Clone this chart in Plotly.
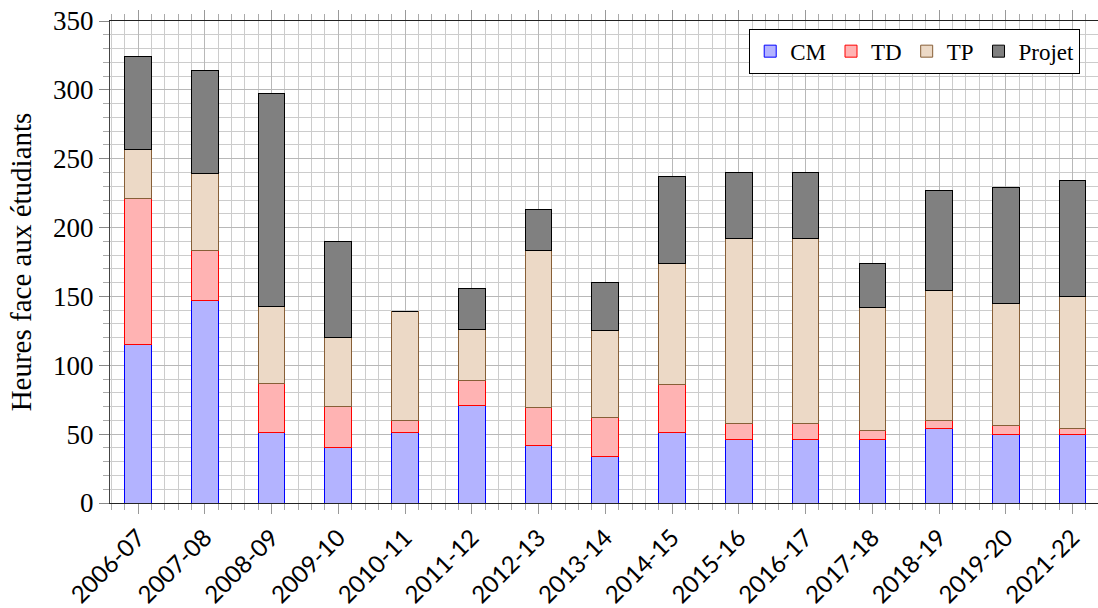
import plotly.graph_objects as go

# Années universitaires
annees = ["2006-07", "2007-08", "2008-09", "2009-10", "2010-11", "2011-12",
          "2012-13", "2013-14", "2014-15", "2015-16", "2016-17", "2017-18",
          "2018-19", "2019-20", "2021-22"]

# Heures par type d'enseignement
cm = [115, 147, 51, 40, 51, 71, 42, 34, 51, 46, 46, 46, 54, 50, 50]
td = [106, 36, 36, 30, 9, 18, 27, 28, 35, 12, 12, 7, 6, 6, 4]
tp = [36, 56, 56, 50, 79, 37, 114, 63, 88, 134, 134, 89, 94, 89, 96]
projet = [67, 75, 154, 70, 0, 30, 30, 35, 63, 48, 48, 32, 73, 84, 84]

y_ticks = [0, 50, 100, 150, 200, 250, 300, 350]

positions = list(range(len(annees)))

series = [
    ("CM", cm, "rgb(179,179,255)", "rgb(0,0,255)"),
    ("TD", td, "rgb(255,179,179)", "rgb(255,0,0)"),
    ("TP", tp, "rgb(236,217,198)", "rgb(135,95,55)"),
    ("Projet", projet, "rgb(128,128,128)", "rgb(0,0,0)"),
]

fig = go.Figure()
for name, vals, fill, edge in series:
    fig.add_trace(go.Bar(
        x=positions, y=vals, name=name, width=0.4,
        marker=dict(color=fill, line=dict(color=edge, width=1)),
    ))

serif = "Liberation Serif"

fig.update_layout(
    width=1098, height=608,
    margin=dict(l=110, r=0, t=21, b=102),
    barmode="stack",
    plot_bgcolor="white", paper_bgcolor="white",
    font=dict(family=serif, size=24, color="black"),
    legend=dict(
        orientation="h", x=0.982, xanchor="right", y=0.984, yanchor="top",
        bgcolor="white", bordercolor="black", borderwidth=1,
        font=dict(family=serif, size=23), traceorder="normal",
        itemwidth=30,
    ),
    xaxis=dict(
        range=[-0.42, 14.38],
        tickmode="array", tickvals=positions, ticktext=annees,
        tickangle=-45, tickfont=dict(family="Lato", size=24, color="black"),
        ticks="outside", ticklen=10, tickcolor="#999999", tickwidth=1,
        showline=True, linecolor="#222222", linewidth=1.3, mirror="ticks",
        showgrid=True, gridcolor="#b8b8b8", gridwidth=1,
        zeroline=False,
        minor=dict(tickmode="linear", tick0=0, dtick=0.2, ticks="outside",
                   ticklen=6, tickcolor="#aaaaaa", showgrid=True,
                   gridcolor="#cccccc", gridwidth=1),
    ),
    yaxis=dict(
        range=[0, 350],
        tickmode="array", tickvals=y_ticks,
        tickfont=dict(family=serif, size=27),
        ticks="outside", ticklen=10, tickcolor="#888888", tickwidth=1,
        showline=True, linecolor="#444444", linewidth=1.3,
        showgrid=True, gridcolor="#b8b8b8", gridwidth=1,
        zeroline=False,
        minor=dict(tickmode="linear", tick0=0, dtick=10, ticks="outside",
                   ticklen=6, tickcolor="#aaaaaa", showgrid=True,
                   gridcolor="#cccccc", gridwidth=1),
        title=dict(text="Heures face aux étudiants",
                   font=dict(family=serif, size=29), standoff=12),
    ),
)

fig.write_html("out.html")
